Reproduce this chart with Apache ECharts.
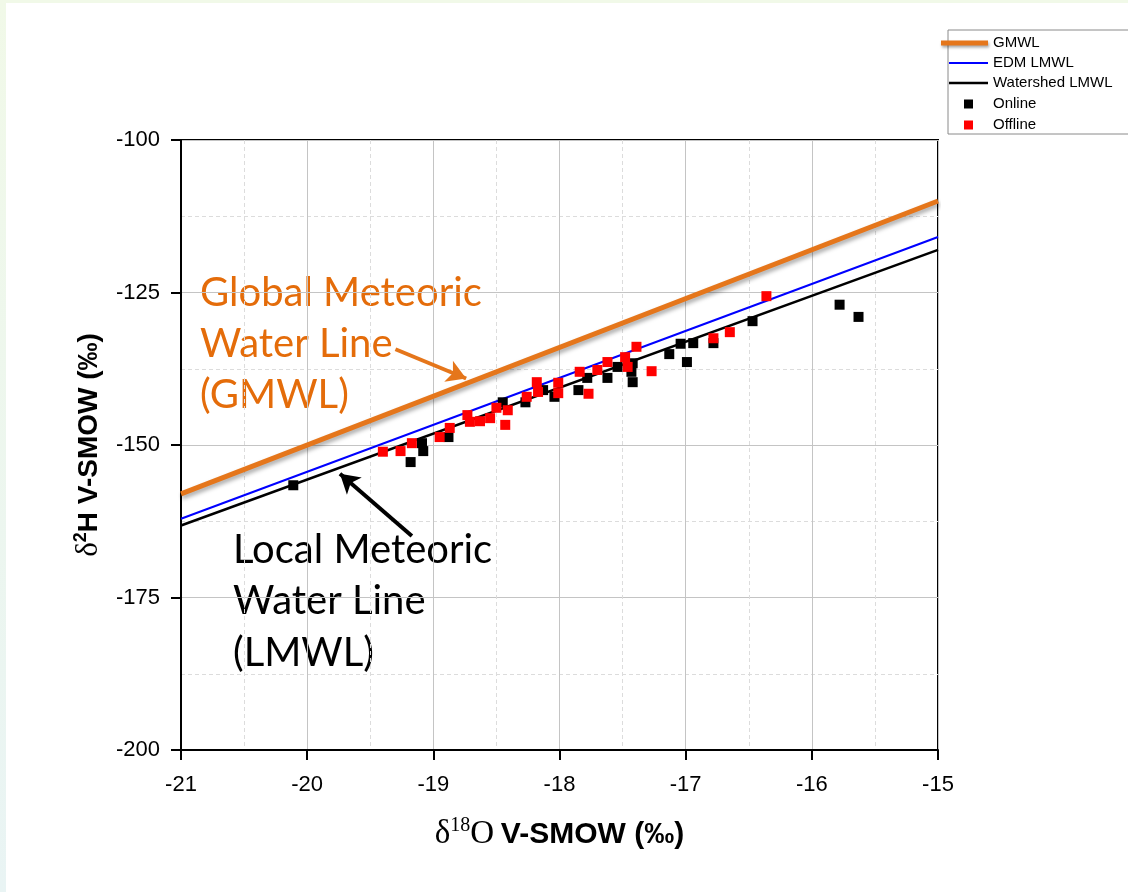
<!DOCTYPE html>
<html>
<head>
<meta charset="utf-8">
<script src="https://cdn.jsdelivr.net/npm/echarts@6/dist/echarts.min.js"></script>
<style>
  html, body { margin: 0; padding: 0; width: 1128px; height: 892px; overflow: hidden;
    background: linear-gradient(to bottom, #f1f9e8, #e9f4f4); }
  #sheet { position: absolute; left: 6px; top: 3px; right: 0; bottom: 0; background: #ffffff; }
  #chart { position: absolute; left: 0; top: 0; width: 1128px; height: 892px; }
</style>
</head>
<body>
<div id="sheet"></div>
<div id="chart"></div>
<script>
// δ18O range used for the meteoric water lines
const lineX = [-21, -15];
// δ2H at the ends of each line
const gmwlY = [-158, -110];
const edmY = [-162.1, -115.9];
const watershedY = [-163.2, -118.0];

// Online samples (δ18O, δ2H)
const onlineX = [-20.11, -19.18, -19.08, -19.09, -18.88, -18.45, -18.27, -18.13, -18.04, -17.85, -17.78, -17.62,
  -17.54, -17.43, -17.42, -17.42, -17.13, -17.04, -16.94, -16.99, -16.78, -16.47, -15.78, -15.63];
const onlineY = [-156.6, -152.8, -151.0, -149.7, -148.7, -143.0, -143.0, -141.0, -142.1, -141.0, -139.0, -139.0,
  -137.2, -138.0, -139.7, -136.6, -135.1, -133.4, -133.3, -136.4, -133.3, -129.7, -127.0, -129.0];

// Offline samples (δ18O, δ2H)
const offlineX = [-19.40, -19.26, -19.17, -18.95, -18.87, -18.73, -18.71, -18.63, -18.55, -18.50, -18.41, -18.43,
  -18.26, -18.18, -18.17, -18.01, -18.01, -17.77, -17.84, -17.70, -17.62, -17.48, -17.46, -17.39, -17.27,
  -16.78, -16.65, -16.36];
const offlineY = [-151.1, -151.0, -149.7, -148.7, -147.2, -145.1, -146.2, -146.1, -145.6, -143.9, -144.3, -146.7,
  -142.1, -139.7, -141.3, -139.8, -141.5, -141.6, -138.0, -137.7, -136.4, -135.6, -137.2, -133.9, -137.9,
  -132.5, -131.5, -125.6];

const xTicks = [-21, -20, -19, -18, -17, -16, -15];
const yTicks = [-200, -175, -150, -125, -100];

const zip = (a, b) => a.map((v, i) => [v, b[i]]);

const ORANGE = '#E5761B';
const SANS = "'Liberation Sans', Arial, sans-serif";
const SERIF = "'Liberation Serif', 'Times New Roman', serif";
const CALLOUT = "Lato, 'Open Sans', sans-serif";
const legendText = { color: '#000', fontSize: 15, fontFamily: SANS };

const chart = echarts.init(document.getElementById('chart'), null, { renderer: 'canvas' });

// one legend block per entry so each key keeps its own stroke thickness
function legendEntry(name, left, top, width, height, extra) {
  return Object.assign({
    data: [name], orient: 'vertical', left: left, top: top, padding: 0,
    icon: 'rect', itemWidth: width, itemHeight: height,
    textStyle: legendText
  }, extra || {});
}

chart.setOption({
  backgroundColor: 'transparent',
  animation: false,
  grid: { left: 181, top: 140, right: 190, bottom: 142, show: true, borderColor: '#000', borderWidth: 2, backgroundColor: 'transparent' },
  xAxis: {
    type: 'value', min: xTicks[0], max: xTicks[xTicks.length - 1], interval: 1,
    axisLine: { show: true, onZero: false, lineStyle: { color: '#000', width: 2 } },
    axisTick: { show: true, length: 10, lineStyle: { color: '#000', width: 2 } },
    axisLabel: { color: '#000', fontSize: 22, fontFamily: SANS, margin: 24 },
    splitLine: { show: true, lineStyle: { color: '#c4c4c4', width: 1 } },
    minorTick: { show: false, splitNumber: 2 },
    minorSplitLine: { show: true, lineStyle: { color: '#dcdcdc', width: 1, type: [4, 3] } },
    name: '{d|δ}{sup|18}{o|O}  {b|V-SMOW (‰)}',
    nameLocation: 'middle', nameGap: 66,
    nameTextStyle: {
      rich: {
        d: { fontFamily: SERIF, fontSize: 33, color: '#000' },
        sup: { fontFamily: SERIF, fontSize: 20, color: '#000', padding: [0, 0, 17, 0] },
        o: { fontFamily: SERIF, fontSize: 33, color: '#000' },
        b: { fontFamily: SANS, fontSize: 30, fontWeight: 'bold', color: '#000' }
      }
    }
  },
  yAxis: {
    type: 'value', min: yTicks[0], max: yTicks[yTicks.length - 1], interval: 25,
    axisLine: { show: true, onZero: false, lineStyle: { color: '#000', width: 2 } },
    axisTick: { show: true, length: 10, lineStyle: { color: '#000', width: 2 } },
    axisLabel: { color: '#000', fontSize: 22, fontFamily: SANS, margin: 21 },
    splitLine: { show: true, lineStyle: { color: '#c4c4c4', width: 1 } },
    minorTick: { show: false, splitNumber: 2 },
    minorSplitLine: { show: true, lineStyle: { color: '#dcdcdc', width: 1, type: [4, 3] } },
    name: '{d|δ}{sup|2}{b|H V-SMOW (‰)}',
    nameLocation: 'middle', nameGap: 75, nameRotate: 90,
    nameTextStyle: {
      rich: {
        d: { fontFamily: SERIF, fontSize: 31, color: '#000' },
        sup: { fontFamily: SANS, fontSize: 18, fontWeight: 'bold', color: '#000', padding: [0, 0, 16, 0] },
        b: { fontFamily: SANS, fontSize: 28, fontWeight: 'bold', color: '#000' }
      }
    }
  },
  legend: [
    legendEntry('GMWL', 941, 35.5, 47, 5, {
      itemStyle: { shadowColor: 'rgba(0,0,0,0.35)', shadowBlur: 3, shadowOffsetX: 1, shadowOffsetY: 2 }
    }),
    legendEntry('EDM LMWL', 949, 55.5, 39, 2),
    legendEntry('Watershed LMWL', 949, 75.5, 39, 2.5),
    legendEntry('Online', 964, 96.5, 9, 9, { textStyle: Object.assign({}, legendText, { padding: [0, 0, 0, 15] }) }),
    legendEntry('Offline', 964, 117.5, 9, 9, { textStyle: Object.assign({}, legendText, { padding: [0, 0, 0, 15] }) })
  ],
  graphic: [
    { type: 'rect', shape: { x: 948, y: 30, width: 200, height: 104 }, style: { fill: '#fff', stroke: '#8a8a8a', lineWidth: 1 }, z: -1 },
    { type: 'text', x: 200, y: 268, style: { text: 'Global Meteoric\nWater Line\n(GMWL)', fill: '#E46C0A', font: '40px ' + CALLOUT, lineHeight: 51 } },
    { type: 'text', x: 233, y: 524, style: { text: 'Local Meteoric\nWater Line\n(LMWL)', fill: '#000', font: '40px ' + CALLOUT, lineHeight: 51.5 } }
  ],
  series: [
    {
      name: 'GMWL', type: 'line', data: zip(lineX, gmwlY), symbol: 'none', z: 3,
      lineStyle: { color: ORANGE, width: 5, shadowColor: 'rgba(0,0,0,0.35)', shadowBlur: 4, shadowOffsetX: 1, shadowOffsetY: 3 },
      itemStyle: { color: ORANGE },
      markLine: {
        silent: true, symbol: ['none', 'arrow'], symbolSize: [17, 19],
        lineStyle: { color: ORANGE, width: 4, type: 'solid', shadowBlur: 0 },
        label: { show: false },
        data: [[{ coord: [-19.30, -134.3] }, { coord: [-18.74, -139.1] }]]
      }
    },
    {
      name: 'EDM LMWL', type: 'line', data: zip(lineX, edmY), symbol: 'none', z: 3,
      lineStyle: { color: '#0000ff', width: 2 }, itemStyle: { color: '#0000ff' }
    },
    {
      name: 'Watershed LMWL', type: 'line', data: zip(lineX, watershedY), symbol: 'none', z: 3,
      lineStyle: { color: '#000', width: 2.5 }, itemStyle: { color: '#000' },
      markLine: {
        silent: true, symbol: ['none', 'arrow'], symbolSize: [17, 19],
        lineStyle: { color: '#000', width: 4, type: 'solid' },
        label: { show: false },
        data: [[{ coord: [-19.17, -164.9] }, { coord: [-19.74, -154.7] }]]
      }
    },
    {
      name: 'Online', type: 'scatter', data: zip(onlineX, onlineY), symbol: 'rect', symbolSize: 10, z: 4,
      itemStyle: { color: '#000', opacity: 1 }
    },
    {
      name: 'Offline', type: 'scatter', data: zip(offlineX, offlineY), symbol: 'rect', symbolSize: 10, z: 4,
      itemStyle: { color: '#ff0000', opacity: 1 }
    }
  ]
});
</script>
</body>
</html>
